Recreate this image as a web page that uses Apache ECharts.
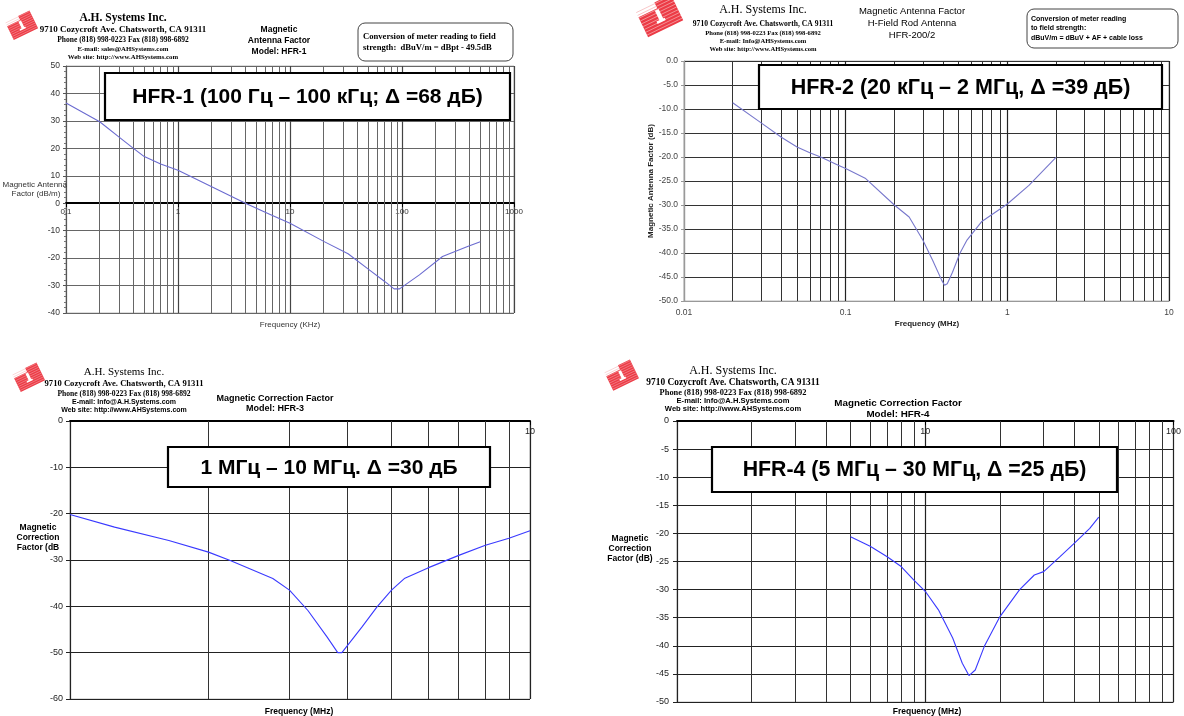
<!DOCTYPE html>
<html>
<head>
<meta charset="utf-8">
<script src="https://cdn.jsdelivr.net/npm/echarts@6/dist/echarts.min.js"></script>
<style>
  html, body { margin: 0; padding: 0; background: #fff; }
  #chart { width: 1184px; height: 716px; }
</style>
</head>
<body>
<div id="chart"></div>
<script>
// HFR-1 rod antenna, frequency in kHz, antenna factor in dB/m
const hfr1Freq   = [0.1, 0.2, 0.3, 0.4, 0.5, 0.7, 1, 2, 4, 6.5, 10, 20, 33, 50, 70, 85, 95, 143, 230, 385, 500];
const hfr1Factor = [36.5, 29.7, 24.0, 20.0, 17.0, 14.3, 12.0, 6.0, 0.0, -3.9, -7.3, -13.9, -18.4, -24.0, -28.5, -31.2, -31.2, -26.1, -19.4, -15.8, -14.0];

// HFR-200/2, frequency in MHz, antenna factor in dB
const hfr2Freq   = [0.02, 0.03, 0.04, 0.05, 0.06, 0.07, 0.09, 0.1, 0.133, 0.2, 0.247, 0.3, 0.345, 0.393, 0.409, 0.425, 0.458, 0.508, 0.563, 0.692, 1, 1.36, 2.0];
const hfr2Factor = [-8.7, -12.9, -15.9, -17.9, -19.1, -20.0, -21.7, -22.4, -24.5, -30.0, -32.5, -37.3, -41.5, -45.7, -46.7, -46.4, -44.0, -40.1, -37.3, -33.5, -29.8, -25.9, -20.1];

// HFR-3, frequency in MHz, correction factor in dB
const hfr3Freq   = [1, 1.25, 1.64, 2, 2.23, 2.76, 3.0, 3.29, 3.62, 3.82, 3.9, 4.31, 4.65, 5, 5.33, 6, 7, 8, 9, 10];
const hfr3Factor = [-20.2, -22.9, -25.8, -28.3, -30.1, -34.0, -36.5, -40.9, -46.6, -50.0, -50.0, -44.5, -40.1, -36.5, -34.0, -31.7, -29.0, -26.8, -25.3, -23.7];

// HFR-4, frequency in MHz, correction factor in dB
const hfr4Freq   = [5, 6, 7, 8, 9, 10, 11.3, 12.9, 14.1, 15.0, 15.9, 17.3, 20, 24, 27.5, 30, 35, 40, 46, 50];
const hfr4Factor = [-20.6, -22.3, -24.1, -25.9, -28.3, -30.3, -33.6, -38.6, -43.1, -45.3, -44.3, -40.1, -34.8, -30.0, -27.4, -26.8, -24.1, -21.7, -19.1, -17.1];

// Decade ranges of the log axes (powers of ten)
const hfr1Decades = [-1, 3];
const hfr2Decades = [-2, 1];
const hfr3Decades = [0, 1];
const hfr4Decades = [0, 2];

// Frame captions
const bannerTexts = [
  'HFR-1 (100 Гц – 100 кГц; Δ =68 дБ)',
  'HFR-2 (20 кГц – 2 МГц, Δ =39 дБ)',
  '1 МГц – 10 МГц. Δ =30 дБ',
  'HFR-4 (5 МГц – 30 МГц, Δ =25 дБ)'
];

const SANS = '"Liberation Sans", Arial, sans-serif';
const SERIF = '"Liberation Serif", "Times New Roman", serif';

// 2..9 multiples inside each decade: minor log grid lines
function minorSteps(decades) {
  const out = [];
  for (let p = decades[0]; p < decades[1]; p++) {
    for (let k = 2; k <= 9; k++) out.push(+(k * Math.pow(10, p)).toPrecision(6));
  }
  return out;
}
function pairs(xs, ys) { return xs.map((x, i) => [x, ys[i]]); }
const plainNumber = v => String(+(+v).toPrecision(6));

function minorGrid(decades, color) {
  return {
    silent: true,
    symbol: ['none', 'none'],
    label: { show: false },
    emphasis: { disabled: true },
    animation: false,
    lineStyle: { color: color, width: 1, type: 'solid' },
    data: minorSteps(decades).map(v => ({ xAxis: v }))
  };
}

function curve(idx, xs, ys, color, decades, gridColor) {
  return {
    type: 'line',
    xAxisIndex: idx, yAxisIndex: idx,
    data: pairs(xs, ys),
    symbol: 'none',
    z: 10,
    lineStyle: { color: color, width: 1.1 },
    markLine: minorGrid(decades, gridColor)
  };
}

function text(str, x, y, size, family, weight, align, color) {
  return {
    type: 'text', z: 60,
    style: {
      text: str, x: x, y: y,
      font: (weight || 'normal') + ' ' + size + 'px ' + family,
      fill: color || '#000',
      textAlign: align || 'center', align: align || 'center',
      textVerticalAlign: 'middle', verticalAlign: 'middle'
    }
  };
}

function banner(str, x, y, w, h, size) {
  return [
    { type: 'rect', z: 55, shape: { x: x, y: y, width: w, height: h },
      style: { fill: '#fff', stroke: '#000', lineWidth: 2.2 } },
    text(str, x + w / 2, y + h / 2 + 1, size, SANS, 'bold', 'center', '#000')
  ];
}

function roundBox(x, y, w, h) {
  return { type: 'rect', z: 55, shape: { x: x, y: y, width: w, height: h, r: 7 },
    style: { fill: '#fff', stroke: '#444', lineWidth: 1 } };
}

// Company logo: tilted red block with hatching and a white notch
function logo(cx, cy, s) {
  const stripes = [];
  for (let yy = -11; yy <= 9; yy += 2.4) {
    stripes.push({ type: 'line', shape: { x1: -15, y1: yy, x2: 15, y2: yy },
      style: { stroke: '#f6b0b3', lineWidth: 0.5 } });
  }
  return {
    type: 'group', x: cx, y: cy, rotation: 0.45, scaleX: s, scaleY: s, z: 50,
    children: [
      { type: 'polygon', shape: { points: [[-15, -7], [1, -7], [1, -12], [15, -12], [15, 10], [-15, 10]] },
        style: { fill: '#ec3b46' } },
      ...stripes,
      { type: 'rect', shape: { x: -1.5, y: -6, width: 3.2, height: 9 }, style: { fill: '#fff' } },
      { type: 'rect', shape: { x: -4, y: 2, width: 7, height: 2 }, style: { fill: '#fff' } }
    ]
  };
}

function header(x0, lines) {
  return lines.map(l => text(l[0], x0, l[1], l[2], l[3], l[4], 'center', '#000'));
}

const graphics = [
  // Panel 1 header
  logo(22, 26, 0.9),
  ...header(123, [
    ['A.H. Systems Inc.', 18, 11.5, SERIF, 'bold'],
    ['9710 Cozycroft Ave. Chatsworth, CA 91311', 30, 9, SERIF, 'bold'],
    ['Phone (818) 998-0223 Fax (818) 998-6892', 40, 7.5, SERIF, 'bold'],
    ['E-mail: sales@AHSystems.com', 49, 6.8, SERIF, 'bold'],
    ['Web site: http://www.AHSystems.com', 57, 6.8, SERIF, 'bold']
  ]),
  text('Magnetic', 279, 30, 8.5, SANS, 'bold'),
  text('Antenna Factor', 279, 41, 8.5, SANS, 'bold'),
  text('Model: HFR-1', 279, 52, 8.5, SANS, 'bold'),
  roundBox(358, 23, 155, 38),
  text('Conversion of meter reading to field', 363, 37, 8.6, SERIF, 'bold', 'left'),
  text('strength:  dBuV/m = dBpt - 49.5dB', 363, 48, 8.6, SERIF, 'bold', 'left'),
  text('Magnetic Antenna', 67, 185, 8, SANS, 'normal', 'right', '#333'),
  text('Factor (dB/m)', 36, 194, 8, SANS, 'normal', 'center', '#333'),
  text('Frequency (KHz)', 290, 325, 8, SANS, 'normal', 'center', '#333'),
  ...banner(bannerTexts[0], 105, 73, 405, 47, 21),

  // Panel 2 header
  logo(660, 17, 1.3),
  ...header(763, [
    ['A.H. Systems Inc.', 10, 12, SERIF, 'normal'],
    ['9710 Cozycroft Ave. Chatsworth, CA 91311', 24, 7.6, SERIF, 'bold'],
    ['Phone (818) 998-0223 Fax (818) 998-6892', 33, 6.6, SERIF, 'bold'],
    ['E-mail: Info@AHSystems.com', 41, 6.6, SERIF, 'bold'],
    ['Web site: http://www.AHSystems.com', 49, 6.6, SERIF, 'bold']
  ]),
  text('Magnetic Antenna Factor', 912, 11, 9.5, SANS, 'normal'),
  text('H-Field Rod Antenna', 912, 23, 9.5, SANS, 'normal'),
  text('HFR-200/2', 912, 35, 9.5, SANS, 'normal'),
  roundBox(1027, 9, 151, 39),
  text('Conversion of meter reading', 1031, 19, 7, SANS, 'bold', 'left'),
  text('to field strength:', 1031, 28, 7, SANS, 'bold', 'left'),
  text('dBuV/m = dBuV + AF + cable loss', 1031, 38, 7, SANS, 'bold', 'left'),
  text('Frequency (MHz)', 927, 324, 8, SANS, 'bold', 'center', '#222'),
  ...banner(bannerTexts[1], 759, 65, 403, 44, 21.5),

  // Panel 3 header
  logo(29, 378, 0.9),
  ...header(124, [
    ['A.H. Systems Inc.', 372, 11, SERIF, 'normal'],
    ['9710 Cozycroft Ave. Chatsworth, CA 91311', 384, 8.6, SERIF, 'bold'],
    ['Phone (818) 998-0223 Fax (818) 998-6892', 394, 7.6, SERIF, 'bold'],
    ['E-mail: Info@A.H.Systems.com', 402, 7, SANS, 'bold'],
    ['Web site: http://www.AHSystems.com', 410, 7, SANS, 'bold']
  ]),
  text('Magnetic Correction Factor', 275, 399, 9, SANS, 'bold'),
  text('Model: HFR-3', 275, 409, 9, SANS, 'bold'),
  text('Magnetic', 38, 528, 8.5, SANS, 'bold'),
  text('Correction', 38, 538, 8.5, SANS, 'bold'),
  text('Factor (dB', 38, 548, 8.5, SANS, 'bold'),
  text('Frequency (MHz)', 299, 712, 8.5, SANS, 'bold'),
  ...banner(bannerTexts[2], 168, 447, 322, 40, 21),

  // Panel 4 header
  logo(622, 376, 0.95),
  ...header(733, [
    ['A.H. Systems Inc.', 371, 12, SERIF, 'normal'],
    ['9710 Cozycroft Ave. Chatsworth, CA 91311', 383, 9.4, SERIF, 'bold'],
    ['Phone (818) 998-0223 Fax (818) 998-6892', 393, 8.4, SERIF, 'bold'],
    ['E-mail: Info@A.H.Systems.com', 401, 7.6, SANS, 'bold'],
    ['Web site: http://www.AHSystems.com', 409, 7.6, SANS, 'bold']
  ]),
  text('Magnetic Correction Factor', 898, 403, 9.8, SANS, 'bold'),
  text('Model: HFR-4', 898, 414, 9.8, SANS, 'bold'),
  text('Magnetic', 630, 539, 8.5, SANS, 'bold'),
  text('Correction', 630, 549, 8.5, SANS, 'bold'),
  text('Factor (dB)', 630, 559, 8.5, SANS, 'bold'),
  text('Frequency (MHz)', 927, 712, 8.5, SANS, 'bold'),
  ...banner(bannerTexts[3], 712, 447, 405, 45, 21.3)
];

function logAxis(idx, decades, opts) {
  return Object.assign({
    type: 'log', logBase: 10, gridIndex: idx,
    min: Math.pow(10, decades[0]), max: Math.pow(10, decades[1]),
    axisLine: { show: true, onZero: false, lineStyle: { color: '#000', width: 1.5 } },
    axisTick: { show: true, length: 4, lineStyle: { color: '#000' } },
    axisLabel: { fontSize: 8, color: '#333', fontFamily: SANS, margin: 5, formatter: plainNumber },
    splitLine: { show: true, lineStyle: { color: '#444', width: 1.2 } }
  }, opts);
}

function valueAxis(idx, min, max, interval, opts) {
  return Object.assign({
    type: 'value', gridIndex: idx, min: min, max: max, interval: interval,
    axisLine: { show: true, lineStyle: { color: '#555', width: 1 } },
    axisTick: { show: true, length: 3, lineStyle: { color: '#555' } },
    axisLabel: { fontSize: 8.5, color: '#333', fontFamily: SANS, margin: 6 },
    splitLine: { show: true, lineStyle: { color: '#666', width: 1 } }
  }, opts);
}

// Panel 1 frame: the frequency axis runs along the 0 dB line
const p1Top = 66, p1Height = 247, p1Min = -40, p1Max = 50;
const p1ZeroOffset = -Math.round(p1Height * (0 - p1Min) / (p1Max - p1Min));

const option = {
  animation: false,
  backgroundColor: '#fff',
  grid: [
    { left: 66, top: p1Top, width: 448, height: p1Height, show: true, borderColor: '#bbb', borderWidth: 1, containLabel: false },
    { left: 684, top: 61, width: 485, height: 240, show: true, borderColor: '#bbb', borderWidth: 1, containLabel: false },
    { left: 70, top: 421, width: 460, height: 278, show: true, borderColor: '#bbb', borderWidth: 1, containLabel: false },
    { left: 677, top: 421, width: 501, height: 281, show: true, borderColor: '#bbb', borderWidth: 1, containLabel: false }
  ],
  xAxis: [
    logAxis(0, hfr1Decades, {
      position: 'bottom', offset: p1ZeroOffset,
      axisLine: { show: true, onZero: false, lineStyle: { color: '#000', width: 2 } },
      axisTick: { show: true, length: 4, lineStyle: { color: '#000' } }
    }),
    logAxis(1, hfr2Decades, {
      axisLine: { show: true, onZero: false, lineStyle: { color: '#999', width: 1 } },
      axisTick: { show: false },
      axisLabel: { fontSize: 8.5, color: '#444', fontFamily: SANS, margin: 7, formatter: plainNumber },
      splitLine: { show: true, lineStyle: { color: '#222', width: 1.2 } }
    }),
    logAxis(2, hfr3Decades, {
      position: 'top',
      axisLine: { show: true, onZero: false, lineStyle: { color: '#000', width: 2 } },
      axisTick: { show: true, inside: true, length: 4, lineStyle: { color: '#000' } },
      axisLabel: { inside: true, fontSize: 9, color: '#222', fontFamily: SANS, margin: 6, showMinLabel: false, formatter: plainNumber },
      splitLine: { show: true, lineStyle: { color: '#222', width: 1.2 } }
    }),
    logAxis(3, hfr4Decades, {
      position: 'top',
      axisLine: { show: true, onZero: false, lineStyle: { color: '#000', width: 2 } },
      axisTick: { show: true, inside: true, length: 4, lineStyle: { color: '#000' } },
      axisLabel: { inside: true, fontSize: 9, color: '#222', fontFamily: SANS, margin: 6, showMinLabel: false, formatter: plainNumber },
      splitLine: { show: true, lineStyle: { color: '#222', width: 1.2 } }
    })
  ],
  yAxis: [
    valueAxis(0, p1Min, p1Max, 10, {
      minorTick: { show: true, splitNumber: 5, length: 2, lineStyle: { color: '#777' } }
    }),
    valueAxis(1, -50, 0, 5, {
      name: 'Magnetic Antenna Factor (dB)',
      nameLocation: 'middle', nameGap: 29, nameRotate: 90,
      nameTextStyle: { fontSize: 8, fontWeight: 'bold', color: '#222', fontFamily: SANS },
      axisLine: { show: true, lineStyle: { color: '#999', width: 1 } },
      axisTick: { show: true, length: 3, lineStyle: { color: '#999' } },
      axisLabel: { fontSize: 8.5, color: '#444', fontFamily: SANS, margin: 6, formatter: v => v.toFixed(1) },
      splitLine: { show: true, lineStyle: { color: '#333', width: 1.2 } }
    }),
    valueAxis(2, -60, 0, 10, {
      axisLine: { show: true, lineStyle: { color: '#222', width: 1 } },
      axisTick: { show: true, length: 4, lineStyle: { color: '#222' } },
      axisLabel: { fontSize: 9, color: '#222', fontFamily: SANS, margin: 7 },
      splitLine: { show: true, lineStyle: { color: '#222', width: 1.2 } }
    }),
    valueAxis(3, -50, 0, 5, {
      axisLine: { show: true, lineStyle: { color: '#222', width: 1 } },
      axisTick: { show: true, length: 4, lineStyle: { color: '#222' } },
      axisLabel: { fontSize: 9, color: '#222', fontFamily: SANS, margin: 8 },
      splitLine: { show: true, lineStyle: { color: '#222', width: 1.2 } }
    })
  ],
  series: [
    curve(0, hfr1Freq, hfr1Factor, '#6b6bd0', hfr1Decades, '#666'),
    curve(1, hfr2Freq, hfr2Factor, '#7878cc', hfr2Decades, '#333'),
    curve(2, hfr3Freq, hfr3Factor, '#3a3aff', hfr3Decades, '#333'),
    curve(3, hfr4Freq, hfr4Factor, '#3a3aff', hfr4Decades, '#333')
  ],
  graphic: { elements: graphics }
};

const chart = echarts.init(document.getElementById('chart'), null, { renderer: 'canvas' });
chart.setOption(option);
</script>
</body>
</html>
